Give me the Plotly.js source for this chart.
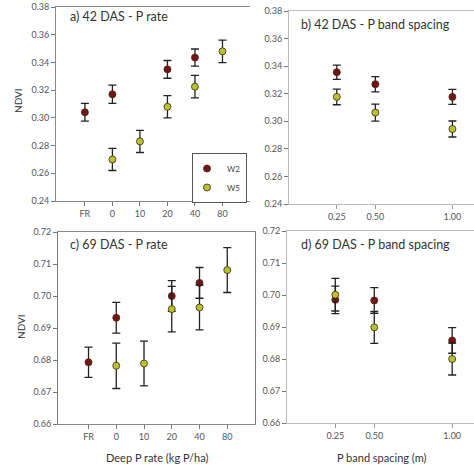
<!DOCTYPE html>
<html><head><meta charset="utf-8">
<script src="https://cdn.plot.ly/plotly-3.0.1.min.js"></script>
<style>html,body{margin:0;padding:0;background:#fff}#chart{width:474px;height:466px}</style>
</head><body><div id="chart"></div>
<script>
// Categories / tick labels
const rateCats = ['FR','0','10','20','40','80'];
const spacingVals = [0.25, 0.50, 1.00];
const spacingTicks = ['0.25','0.50','1.00'];

// a) 42 DAS - P rate
const a_W2_x = ['FR','0','20','40'];
const a_W2_y = [0.304, 0.317, 0.335, 0.3435];
const a_W2_e = [0.0064, 0.0066, 0.0064, 0.0062];
const a_W5_x = ['0','10','20','40','80'];
const a_W5_y = [0.270, 0.283, 0.308, 0.3225, 0.348];
const a_W5_e = [0.008, 0.008, 0.008, 0.0081, 0.0081];

// b) 42 DAS - P band spacing
const b_W2_y = [0.3356, 0.3269, 0.3177];
const b_W2_e = [0.0052, 0.0055, 0.0055];
const b_W5_y = [0.3177, 0.3063, 0.2944];
const b_W5_e = [0.0057, 0.0062, 0.0058];

// c) 69 DAS - P rate
const c_W2_x = ['FR','0','20','40'];
const c_W2_y = [0.6793, 0.6932, 0.7000, 0.7041];
const c_W2_e = [0.0047, 0.0048, 0.0048, 0.0048];
const c_W5_x = ['0','10','20','40','80'];
const c_W5_y = [0.6782, 0.6789, 0.6959, 0.6964, 0.7081];
const c_W5_e = [0.0071, 0.0070, 0.0071, 0.0070, 0.0070];

// d) 69 DAS - P band spacing
const d_W2_y = [0.6985, 0.6983, 0.6858];
const d_W2_e = [0.0043, 0.0040, 0.0040];
const d_W5_y = [0.7001, 0.6899, 0.6800];
const d_W5_e = [0.0051, 0.0050, 0.0050];

const colW2 = '#7a1214', colW5 = '#b7c22c';
const FONT = 'Lato, "Open Sans", sans-serif';

function tr(x, y, e, name, col, xa, ya, show) {
  return {
    type: 'scatter', mode: 'markers', x: x, y: y, name: name,
    xaxis: xa, yaxis: ya, showlegend: show, legendgroup: name,
    marker: {color: col, size: 7, line: {color: '#3a2a1a', width: 0.8}},
    error_y: {type: 'data', array: e, visible: true, color: '#222', thickness: 1.3, width: 4}
  };
}

const data = [
  tr(a_W2_x, a_W2_y, a_W2_e, 'W2', colW2, 'x', 'y', true),
  tr(a_W5_x, a_W5_y, a_W5_e, 'W5', colW5, 'x', 'y', true),
  tr(spacingVals, b_W2_y, b_W2_e, 'W2', colW2, 'x2', 'y2', false),
  tr(spacingVals, b_W5_y, b_W5_e, 'W5', colW5, 'x2', 'y2', false),
  tr(c_W2_x, c_W2_y, c_W2_e, 'W2', colW2, 'x3', 'y3', false),
  tr(c_W5_x, c_W5_y, c_W5_e, 'W5', colW5, 'x3', 'y3', false),
  tr(spacingVals, d_W2_y, d_W2_e, 'W2', colW2, 'x4', 'y4', false),
  tr(spacingVals, d_W5_y, d_W5_e, 'W5', colW5, 'x4', 'y4', false)
];

const W = 474, H = 466;
const px = v => v / W, py = v => 1 - v / H;
const tickFont = {family: FONT, size: 9, color: '#555'};

function xcat(dom, range, anchor) {
  return {domain: dom, anchor: anchor, type: 'category', categoryorder: 'array', categoryarray: rateCats,
    range: range, showgrid: false, zeroline: false, showline: true, linecolor: '#8a8a8a', linewidth: 1,
    mirror: true, ticks: 'outside', ticklen: 4, tickcolor: '#777', tickfont: tickFont};
}
function xnum(dom, anchor) {
  return {domain: dom, anchor: anchor, range: [-0.06, 1.14], tickvals: spacingVals, ticktext: spacingTicks,
    showgrid: false, zeroline: false, showline: true, linecolor: '#bbbbbb', linewidth: 1,
    mirror: true, ticks: 'outside', ticklen: 4, tickcolor: '#999', tickfont: tickFont};
}
function yax(dom, range, dtick, fmt, anchor, mirror, lc) {
  return {domain: dom, anchor: anchor, range: range, dtick: dtick, tick0: range[0], tickformat: fmt,
    showgrid: false, zeroline: false, showline: true, linecolor: lc, linewidth: 1, mirror: mirror,
    ticks: 'outside', ticklen: 4, tickcolor: '#777', tickfont: tickFont};
}

const ann = (text, x, y, size, extra) => Object.assign({text: text, x: px(x), y: py(y), xref: 'paper', yref: 'paper',
  xanchor: 'center', yanchor: 'middle', showarrow: false, font: {family: FONT, size: size, color: '#333'}}, extra || {});

const layout = {
  width: W, height: H, margin: {l: 0, r: 0, t: 0, b: 0},
  paper_bgcolor: '#fff', plot_bgcolor: '#fff',
  font: {family: FONT, color: '#444'},
  xaxis: xcat([px(56), px(250)], [-1.05, 6.0], 'y'),
  yaxis: yax([py(201), py(7)], [0.24, 0.38], 0.02, '.2f', 'x', false, '#8a8a8a'),
  xaxis2: xnum([px(289), 1], 'y2'),
  yaxis2: yax([py(204), py(11)], [0.24, 0.38], 0.02, '.2f', 'x2', false, '#bbbbbb'),
  xaxis3: xcat([px(58), px(255)], [-1.1, 6.0], 'y3'),
  yaxis3: yax([py(424), py(232)], [0.66, 0.72], 0.01, '.2f', 'x3', true, '#777'),
  xaxis4: xnum([px(287), 1], 'y4'),
  yaxis4: yax([py(423), py(231)], [0.66, 0.72], 0.01, '.2f', 'x4', false, '#bbbbbb'),
  showlegend: true,
  legend: {x: px(192), y: py(153), xanchor: 'left', yanchor: 'top', bordercolor: '#555', borderwidth: 1,
    bgcolor: '#fff', font: {family: FONT, size: 8, color: '#444'}, itemwidth: 30, tracegroupgap: 0,
    indentation: -6},
  annotations: [
    ann('a) 42 DAS - P rate', 68, 17, 12.5, {xanchor: 'left'}),
    ann('b) 42 DAS - P band spacing', 299, 25, 12.5, {xanchor: 'left'}),
    ann('c) 69 DAS - P rate', 68, 244, 12.5, {xanchor: 'left'}),
    ann('d) 69 DAS - P band spacing', 299, 244, 12.5, {xanchor: 'left'}),
    ann('NDVI', 18, 101, 10, {textangle: -90}),
    ann('NDVI', 21, 327, 10, {textangle: -90}),
    ann('Deep P rate (kg P/ha)', 157, 457, 11),
    ann('P band spacing (m)', 382, 457, 11)
  ]
};

Plotly.newPlot('chart', data, layout, {displayModeBar: false, staticPlot: true});
</script></body></html>
